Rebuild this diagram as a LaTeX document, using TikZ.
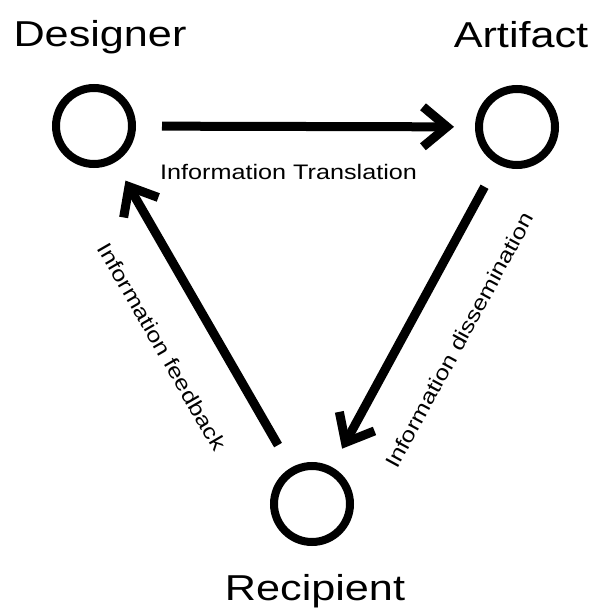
\documentclass[tikz,border=0pt]{standalone}
\usepackage{fontspec}
\usetikzlibrary{arrows.meta, positioning}
\newfontfamily\diagfont[FakeStretch=1.2]{Liberation Sans}

\begin{document}
\begin{tikzpicture}[x = 1pt, y = -1pt,
                    agent/.style = {circle, draw, line width=8pt, minimum size=76pt, inner sep=0pt},
                    role/.style  = {font=\diagfont\fontsize{36}{40}\selectfont, inner sep=0pt},
                    flow/.style  = {line width=9pt, -{Straight Barb[length=24pt, width=40pt]},
                                    shorten <=26pt, shorten >=21pt},
                    tag/.style   = {font=\diagfont\fontsize{21}{24}\selectfont, inner sep=0pt}]

    \useasboundingbox (0,0) rectangle (593,612);

    % the three parties
    \node[agent] (designer)  at (94,126)  {};
    \node[agent] (artifact)  at (517,127) {};
    \node[agent] (recipient) at (312,504) {};

    \node[role, above=37pt of designer.north, anchor=base, xshift=6pt] (designer-name)  {Designer};
    \node[role, above=37pt of artifact.north, anchor=base, xshift=4pt] (artifact-name)  {Artifact};
    \node[role, below=28pt of recipient, xshift=3pt]                   (recipient-name) {Recipient};

    % information cycle
    \draw[flow] (designer) -- node[tag, pos=0.45, below=33pt] (translation) {Information Translation} (artifact);
    \draw[flow] (artifact) -- node[tag, sloped, pos=0.50, below=39pt] (dissemination) {Information dissemination} (recipient);
    \draw[flow] (recipient) -- node[tag, sloped, pos=0.48, below=39pt] (feedback) {Information feedback} (designer);

\end{tikzpicture}
\end{document}
